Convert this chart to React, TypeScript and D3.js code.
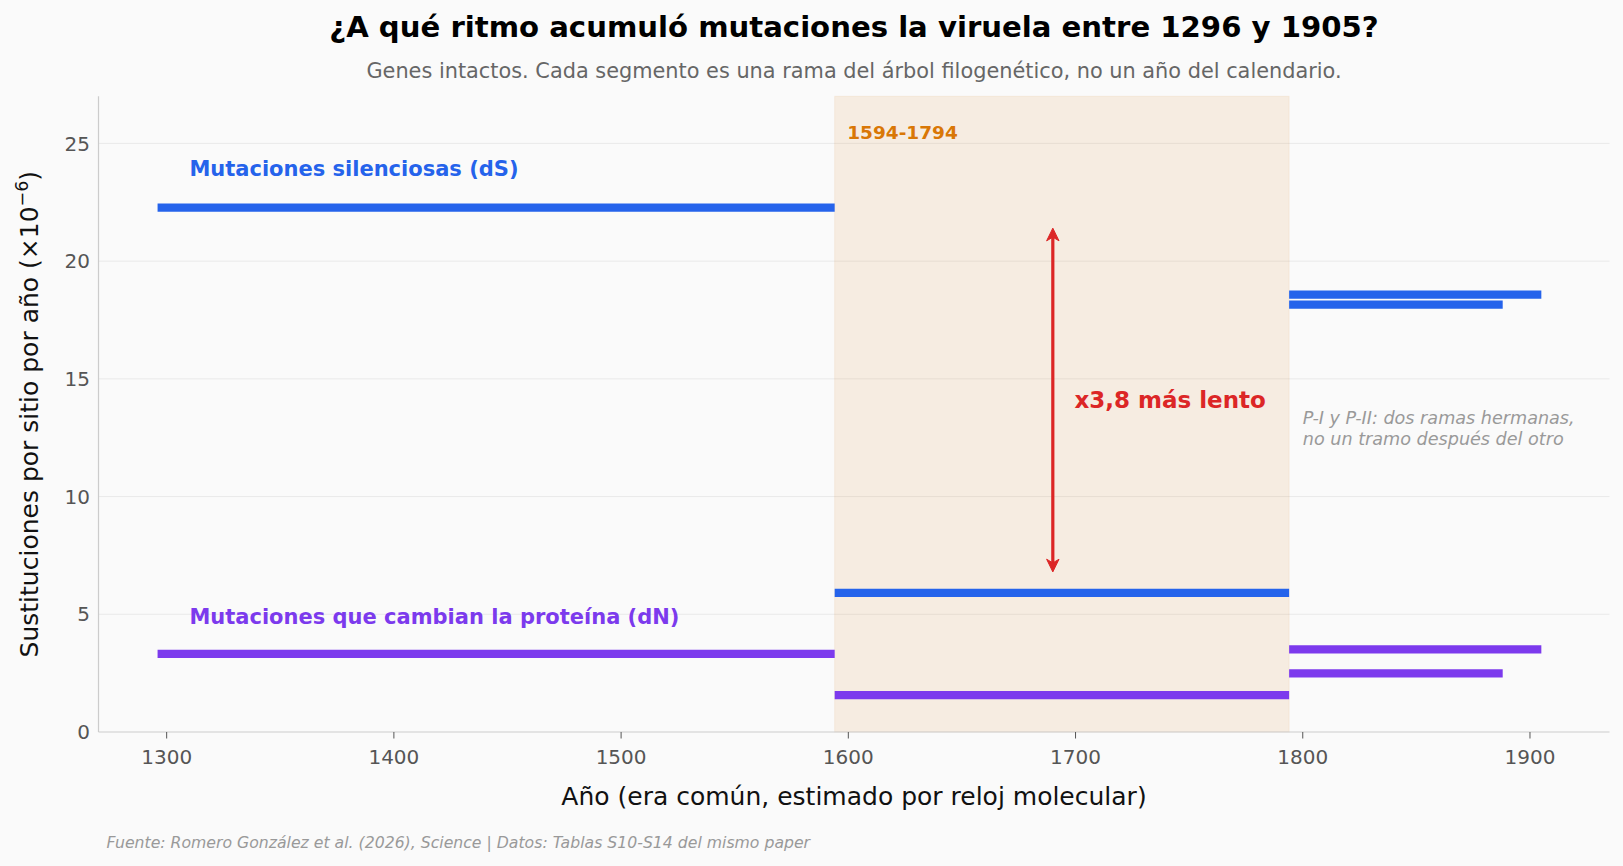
import React from "react";
import * as d3 from "d3";

// ---- Data ----
const branchNames = ["1296-1594", "1594-1794", "P-I", "P-II"];
const branchStart = [1296, 1594, 1794, 1794];
const branchEnd = [1594, 1794, 1905, 1888];
const dSRates = [22.27, 5.91, 18.58, 18.15];
const dNRates = [3.32, 1.57, 3.51, 2.49];
const xTicks = [1300, 1400, 1500, 1600, 1700, 1800, 1900];
const yTicks = [0, 5, 10, 15, 20, 25];
const highlightPeriod = [1594, 1794];
const ratioArrow = [6.8, 21.4];
const ratioArrowYear = 1690;

const TITLE = "¿A qué ritmo acumuló mutaciones la viruela entre 1296 y 1905?";
const SUBTITLE = "Genes intactos. Cada segmento es una rama del árbol filogenético, no un año del calendario.";
const XLABEL = "Año (era común, estimado por reloj molecular)";
const SOURCE = "Fuente: Romero González et al. (2026), Science | Datos: Tablas S10-S14 del mismo paper";
const DS_LABEL = "Mutaciones silenciosas (dS)";
const DN_LABEL = "Mutaciones que cambian la proteína (dN)";
const RATIO_LABEL = "x3,8 más lento";
const PERIOD_LABEL = "1594-1794";
const NOTE_LINES = ["P-I y P-II: dos ramas hermanas,", "no un tramo después del otro"];

const W = 1623;
const H = 866;
const FONT = "'DejaVu Sans', 'Liberation Sans', sans-serif";
const BLUE = "#2563eb";
const PURPLE = "#7c3aed";
const RED = "#dc2626";
const ORANGE = "#d97706";

export default function App() {
  const left = 98.5, right = 1609.5, top = 96.3, bottom = 732;
  const x = d3.scaleLinear().domain([1270, 1935]).range([left, right]);
  const y = d3.scaleLinear().domain([0, 27]).range([bottom, top]);
  const cx = (left + right) / 2;
  const cy = (top + bottom) / 2;

  const ax = x(ratioArrowYear);
  const aTop = y(ratioArrow[1]);
  const aBot = y(ratioArrow[0]);
  const headL = 12.7, headW = 6.2, notch = 9;

  const segs = (rates: number[], color: string, key: string) =>
    rates.map((r, i) => (
      <line
        key={key + i}
        x1={x(branchStart[i])}
        x2={x(branchEnd[i])}
        y1={y(r)}
        y2={y(r)}
        stroke={color}
        strokeWidth={8.3}
        strokeLinecap="butt"
      >
        <title>{branchNames[i]}</title>
      </line>
    ));

  return (
    <svg
      width={W}
      height={H}
      style={{ position: "absolute", left: 0, top: 0, display: "block" }}
      fontFamily={FONT}
    >
      <rect x={0} y={0} width={W} height={H} fill="#fafafa" />

      {/* grid */}
      {yTicks.filter((t) => t > 0).map((t) => (
        <line key={"g" + t} x1={left} x2={right} y1={y(t)} y2={y(t)} stroke="#e9e9e9" strokeWidth={1} />
      ))}

      {/* highlighted period */}
      <rect
        x={x(highlightPeriod[0])}
        y={top}
        width={x(highlightPeriod[1]) - x(highlightPeriod[0])}
        height={bottom - top}
        fill={ORANGE}
        fillOpacity={0.1}
        stroke={ORANGE}
        strokeOpacity={0.08}
        strokeWidth={1}
      />

      {/* spines */}
      <line x1={left} x2={left} y1={top} y2={bottom} stroke="#cccccc" strokeWidth={1.2} />
      <line x1={left} x2={right} y1={bottom} y2={bottom} stroke="#cccccc" strokeWidth={1.2} />

      {/* x ticks */}
      {xTicks.map((t) => (
        <g key={"xt" + t}>
          <line x1={x(t)} x2={x(t)} y1={bottom} y2={bottom + 6.5} stroke="#555" strokeWidth={1} />
          <text x={x(t)} y={764} fontSize={20} fill="#555" textAnchor="middle">
            {t}
          </text>
        </g>
      ))}

      {/* y ticks */}
      {yTicks.map((t) => (
        <text key={"yt" + t} x={90} y={y(t)} dy="0.36em" fontSize={20} fill="#555" textAnchor="end">
          {t}
        </text>
      ))}

      {/* segments */}
      {segs(dSRates, BLUE, "ds")}
      {segs(dNRates, PURPLE, "dn")}

      {/* ratio arrow */}
      <line x1={ax} x2={ax} y1={aTop + 4} y2={aBot - 4} stroke={RED} strokeWidth={3.2} />
      <path
        d={`M${ax},${aTop} L${ax - headW},${aTop + headL} L${ax},${aTop + notch} L${ax + headW},${aTop + headL} Z`}
        fill={RED}
        stroke={RED}
        strokeWidth={1}
        strokeLinejoin="round"
      />
      <path
        d={`M${ax},${aBot} L${ax - headW},${aBot - headL} L${ax},${aBot - notch} L${ax + headW},${aBot - headL} Z`}
        fill={RED}
        stroke={RED}
        strokeWidth={1}
        strokeLinejoin="round"
      />
      <text x={x(1699.5)} y={y(13.75)} fontSize={23} fontWeight="bold" fill={RED}>
        {RATIO_LABEL}
      </text>

      {/* annotations */}
      <text x={x(1310)} y={y(dSRates[0] + 1.33)} fontSize={21} fontWeight="bold" fill={BLUE}>
        {DS_LABEL}
      </text>
      <text x={x(1310)} y={y(dNRates[0] + 1.28)} fontSize={21} fontWeight="bold" fill={PURPLE}>
        {DN_LABEL}
      </text>
      <text x={x(1599.5)} y={y(25.2)} fontSize={18.5} fontWeight="bold" fill={ORANGE}>
        {PERIOD_LABEL}
      </text>
      <text x={x(1800)} y={y(13.07)} fontSize={17.6} fontStyle="italic" fill="#999">
        {NOTE_LINES.map((l, i) => (
          <tspan key={i} x={x(1800)} dy={i === 0 ? 0 : 20.3}>
            {l}
          </tspan>
        ))}
      </text>

      {/* titles */}
      <text x={cx} y={37.3} fontSize={29.15} fontWeight="bold" fill="#000" textAnchor="middle">
        {TITLE}
      </text>
      <text x={cx} y={78.3} fontSize={20.85} fill="#666" textAnchor="middle">
        {SUBTITLE}
      </text>

      {/* axis labels */}
      <text x={cx} y={805} fontSize={25} fill="#111" textAnchor="middle">
        {XLABEL}
      </text>
      <text
        transform={`translate(37.5,${cy}) rotate(-90)`}
        fontSize={25}
        fill="#111"
        textAnchor="middle"
      >
        Sustituciones por sitio por año (×10
        <tspan fontSize={17.5} dy={-10}>−6</tspan>
        <tspan dy={10}>)</tspan>
      </text>

      {/* source */}
      <text x={106.6} y={848} fontSize={15.7} fontStyle="italic" fill="#999">
        {SOURCE}
      </text>
    </svg>
  );
}
